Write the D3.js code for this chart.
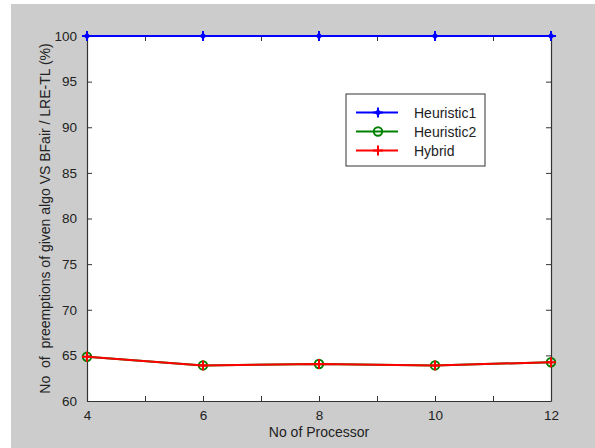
<!DOCTYPE html>
<html><head><meta charset="utf-8">
<script src="https://cdn.jsdelivr.net/npm/d3@7"></script>
<style>body{margin:0;background:#fff}svg{display:block}text{font-family:"Liberation Sans",Arial,sans-serif}</style>
</head><body>
<script>
const processors = [4, 6, 8, 10, 12];
const heuristic1 = [100, 100, 100, 100, 100];
const heuristic2 = [64.85, 63.9, 64.05, 63.9, 64.25];
const hybrid = [64.85, 63.9, 64.05, 63.9, 64.25];
const xTicks = [4, 5, 6, 7, 8, 9, 10, 11, 12];
const xTickLabels = ["4", "", "6", "", "8", "", "10", "", "12"];
const yTicks = [60, 65, 70, 75, 80, 85, 90, 95, 100];
const seriesNames = ["Heuristic1", "Heuristic2", "Hybrid"];
const seriesColors = ["#0000ff", "#008000", "#ff0000"];
const seriesMarkers = ["star", "circle", "plus"];
const seriesValues = [heuristic1, heuristic2, hybrid];
const xLabel = "No of Processor";
const yLabel = "No  of  preemptions of given algo VS BFair / LRE-TL (%)";

const W = 595, H = 448;
const svg = d3.select("body").append("svg").attr("width", W).attr("height", H);
svg.append("rect").attr("x", 11).attr("y", 4).attr("width", W - 11).attr("height", H - 4).attr("fill", "#cccccc");

const L = 87, R = 551, T = 36, B = 401;
const x = d3.scaleLinear().domain([4, 12]).range([L, R]);
const y = d3.scaleLinear().domain([60, 100]).range([B, T]);

svg.append("rect").attr("x", L).attr("y", T).attr("width", R - L).attr("height", B - T).attr("fill", "#fff");

const tl = 5;
const fmtX = (d, i) => xTickLabels[i];
const axB = svg.append("g").attr("transform", `translate(0,${B})`)
  .call(d3.axisBottom(x).tickValues(xTicks).tickFormat(fmtX).tickSizeInner(-tl).tickSizeOuter(0).tickPadding(9));
const axT = svg.append("g").attr("transform", `translate(0,${T})`)
  .call(d3.axisTop(x).tickValues(xTicks).tickFormat("").tickSizeInner(-tl).tickSizeOuter(0));
const axL = svg.append("g").attr("transform", `translate(${L},0)`)
  .call(d3.axisLeft(y).tickValues(yTicks).tickSizeInner(-tl).tickSizeOuter(0).tickPadding(10));
const axR = svg.append("g").attr("transform", `translate(${R},0)`)
  .call(d3.axisRight(y).tickValues(yTicks).tickFormat("").tickSizeInner(-tl).tickSizeOuter(0));
[axB, axT, axL, axR].forEach(a => {
  a.select(".domain").attr("stroke", "#333").attr("stroke-width", 1.2);
  a.selectAll(".tick line").attr("stroke", "#333");
  a.selectAll("text").attr("font-size", 13.5).attr("fill", "#222").attr("font-family", "Liberation Sans, Arial, sans-serif");
});

function drawMarker(g, type, color, cx, cy) {
  if (type === "star") {
    g.append("path").attr("d", `M${cx-5},${cy}L${cx+5},${cy}M${cx},${cy-5}L${cx},${cy+5}`).attr("stroke", color).attr("stroke-width", 2);
    g.append("path").attr("d", `M${cx},${cy-3.5}L${cx+3.5},${cy}L${cx},${cy+3.5}L${cx-3.5},${cy}Z`).attr("fill", color);
  } else if (type === "circle") {
    g.append("circle").attr("cx", cx).attr("cy", cy).attr("r", 4.2).attr("fill", "none").attr("stroke", color).attr("stroke-width", 2);
  } else {
    g.append("path").attr("d", `M${cx-5},${cy}L${cx+5},${cy}M${cx},${cy-5}L${cx},${cy+5}`).attr("stroke", color).attr("stroke-width", 2);
  }
}

const line = d3.line().x((d, i) => x(processors[i])).y(d => y(d));
const plot = svg.append("g");
seriesValues.forEach((vals, s) => {
  const g = plot.append("g");
  g.append("path").datum(vals).attr("d", line).attr("fill", "none").attr("stroke", seriesColors[s]).attr("stroke-width", 2);
  vals.forEach((v, i) => drawMarker(g, seriesMarkers[s], seriesColors[s], x(processors[i]), y(v)));
});

// legend
const lg = svg.append("g");
lg.append("rect").attr("x", 346).attr("y", 94).attr("width", 139).attr("height", 72).attr("fill", "#fff").attr("stroke", "#333").attr("stroke-width", 1);
const rowsY = [112.5, 131.5, 150.5];
seriesNames.forEach((n, s) => {
  lg.append("line").attr("x1", 356).attr("x2", 398).attr("y1", rowsY[s]).attr("y2", rowsY[s]).attr("stroke", seriesColors[s]).attr("stroke-width", 2);
  drawMarker(lg, seriesMarkers[s], seriesColors[s], 378, rowsY[s]);
  lg.append("text").attr("x", 414).attr("y", rowsY[s]).attr("dy", "0.36em").attr("font-size", 14).attr("fill", "#222").text(n);
});

svg.append("text").attr("x", (L + R) / 2).attr("y", 437).attr("text-anchor", "middle").attr("font-size", 14).attr("fill", "#222").text(xLabel);
svg.append("text").attr("transform", `translate(45,${(T + B) / 2}) rotate(-90)`).attr("text-anchor", "middle").attr("dy", "0.36em").attr("font-size", 14).attr("fill", "#222").style("white-space", "pre").text(yLabel);
</script>
</body></html>
